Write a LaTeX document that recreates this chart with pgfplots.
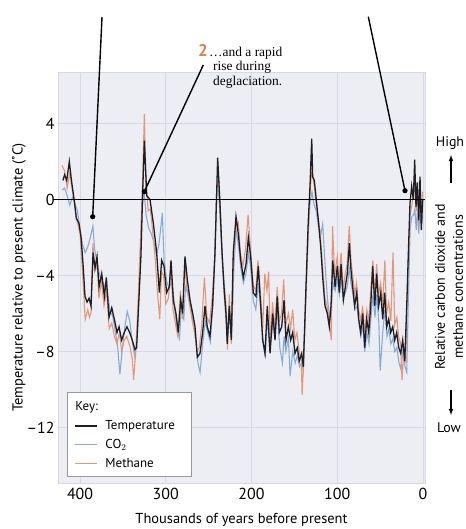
\documentclass[border=0pt]{standalone}
\usepackage{pgfplots}
\pgfplotsset{compat=1.18}
\usepackage{fontspec}
\setmainfont{PT Sans}
\newfontfamily\seriffont{Liberation Serif}

\definecolor{bgcol}{HTML}{ECEEF3}
\definecolor{gridcol}{HTML}{D6D9E1}
\definecolor{tempcol}{HTML}{1E1E24}
\definecolor{cocol}{HTML}{86ACD6}
\definecolor{methcol}{HTML}{E3977A}
\definecolor{numcol}{HTML}{D9824E}

\begin{document}
\begin{tikzpicture}
\path[use as bounding box] (-58bp,-46bp) rectangle (408bp,483bp);
\begin{axis}[
    scale only axis, width=367bp, height=411bp,
    x dir=reverse, xmin=-2.3, xmax=425.7,
    ymin=-14.92, ymax=6.71,
    xtick={0,100,200,300,400},
    ytick={-12,-8,-4,0,4},
    yticklabels={–12,–8,–4,0,4},
    /pgf/number format/assume math mode=true,
    tick style={draw=none},
    grid=major, major grid style={gridcol, line width=0.8bp},
    axis background/.style={fill=bgcol},
    axis line style={gridcol},
    ticklabel style={font=\fontsize{16}{18}\selectfont},
    xticklabel style={yshift=-2bp},
    xlabel={Thousands of years before present},
    ylabel={Temperature relative to present climate (˚C)},
    label style={font=\fontsize{14.5}{17}\selectfont},
    xlabel style={at={(rel axis cs:0.5,-0.09)}, anchor=center},
    ylabel style={at={(rel axis cs:-0.1063,0.5)}, anchor=center},
    clip=false,
    legend style={at={(0.0245,0.0146)}, anchor=south west, draw=gray!80, fill=white,
        line width=0.8bp, font=\fontsize{13}{15}\selectfont,
        inner xsep=7bp, inner ysep=4bp, nodes={inner ysep=4bp}},
    legend cell align=left,
    legend image code/.code={\draw[#1, line width=1.3bp] (0bp,0bp) -- (22bp,0bp); \path (28bp,0bp);},
]
% CO2
\addplot[cocol, line width=1.1bp, forget plot] coordinates {
(421,0.5) (418,0.6) (415,0.2) (412,-0.3) (409,0.1) (406,-0.2) (403,-0.6) (400,-1.6)
(397,-2.4) (394,-2.8) (391,-2.5) (388,-2.0) (385,-1.4) (383,-2.6) (380,-3.4) (377,-4.0)
(374,-4.3) (371,-4.6) (368,-4.9) (365,-5.9) (362,-6.1) (359,-6.9) (356,-7.8) (353.5,-9.2)
(351,-8.0) (348,-6.8) (345,-5.9) (342,-6.4) (339,-7.5) (336,-8.3) (333,-7.0) (330,-3.5)
(328,-0.8) (325.5,0.6) (323,-0.8) (320,-1.5) (317,-1.8) (314,-2.2) (311,-2.9) (308,-2.4)
(304,-0.7) (302,-3.2) (299,-4.3) (296,-4.7) (293,-4.2) (290,-5.5) (287,-6.8) (284,-7.3)
(282,-5.8) (279,-6.3) (277,-4.6) (274,-5.0) (271,-5.6) (268,-6.6) (265,-7.4) (262.5,-8.6)
(260,-9.1) (257,-7.6) (254,-6.4) (251,-7.0) (248,-7.5) (245,-5.4) (242.5,-2.5) (240,1.0)
(238,0.2) (235.5,-2.0) (233,-3.8) (230,-5.4) (228,-7.2) (225.5,-6.0) (223,-7.0) (220.5,-3.5)
(218,-1.6) (215.5,-2.3) (212.5,-3.6) (209.5,-4.4) (206.5,-3.9) (203.5,-2.8) (201,-3.6) (198,-5.3)
(195,-5.8) (192,-4.4) (189,-5.9) (187,-7.2) (184,-8.3) (181.5,-6.2) (178.5,-7.9) (175,-6.5)
(172.5,-7.2) (170,-5.8) (167,-7.8) (164,-8.6) (162,-7.2) (160,-8.0) (157,-7.3) (155,-9.3)
(152,-8.0) (149,-8.6) (146.5,-8.2) (144,-8.8) (141.5,-8.6) (139.5,-9.0) (136.5,-5.0) (134,-1.8)
(131.8,-0.2) (129.5,0.4) (127,-0.3) (124.5,-0.6) (122,-1.4) (119,-1.8) (117,-1.3) (114,-3.6)
(111.5,-5.2) (109,-6.2) (107,-5.6) (105,-4.4) (102.5,-4.8) (100,-4.2) (97.5,-5.0) (95.5,-4.2)
(93,-5.1) (90.5,-4.9) (88,-4.5) (86,-3.6) (84,-4.4) (82,-4.9) (79.5,-5.8) (77,-5.6)
(75,-6.4) (72.5,-7.2) (70,-6.6) (68,-8.0) (65.5,-7.0) (63,-7.6) (61,-6.4) (58.5,-5.0)
(56,-6.2) (54,-5.0) (51.5,-6.5) (50,-9.0) (47,-7.0) (44.5,-5.8) (42,-7.2) (40,-6.8)
(37.5,-7.6) (35,-7.3) (33,-8.0) (30.5,-7.8) (28,-8.6) (26,-8.9) (23.5,-8.0) (21,-8.8)
(19,-9.1) (17,-5.0) (15,-1.5) (13,-0.9) (11,-0.8) (9.5,-0.5) (8,-1.6) (6.5,-0.6)
(5,-1.8) (3.5,-0.7) (2,-1.4) (0.4,-0.9)
};
% Methane
\addplot[methcol, line width=1.1bp, forget plot] coordinates {
(421,1.8) (418,1.5) (415,0.6) (412,1.4) (409,0.5) (406,-0.4) (403,-1.2) (400,-1.8)
(397,-3.8) (394,-6.3) (391,-5.8) (389,-6.2) (387,-5.9) (385,-2.3) (383,-3.8) (380,-3.4)
(378,-5.2) (375,-4.3) (372,-5.6) (369,-4.8) (366,-6.8) (363,-6.5) (360,-7.2) (357,-7.6)
(354,-7.0) (351.5,-8.0) (348.5,-7.4) (345.5,-7.2) (342,-7.7) (339,-8.4) (337.5,-9.5) (335,-8.0)
(332,-5.0) (329,-1.5) (327,1.0) (325,4.5) (323,0.8) (320.5,-0.6) (318,-0.5) (315,-1.8)
(312,-3.3) (309.5,-5.0) (307,-6.3) (305,-3.8) (302.5,-4.0) (300,-5.5) (297,-5.2) (294,-3.6)
(291.5,-5.8) (288.5,-6.6) (286,-7.2) (283,-4.8) (280.5,-6.3) (278,-3.4) (275.5,-4.6) (272,-5.6)
(269,-6.4) (266,-7.0) (263.5,-8.0) (261,-7.8) (258,-6.6) (255,-4.1) (252,-6.2) (249,-6.5)
(246,-5.2) (243,-3.2) (240.5,0.7) (238,1.0) (236,-1.0) (234,-3.2) (232,-5.0) (229.5,-6.4)
(228,-7.9) (226,-5.0) (223.5,-7.6) (221,-3.2) (218.5,-1.5) (215.5,-1.2) (213,-2.8) (210,-3.5)
(207,-2.6) (204,-0.8) (201.5,-2.4) (198,-4.5) (195,-4.8) (192.5,-3.2) (189.5,-5.0) (187,-6.8)
(184.5,-3.9) (182,-4.8) (180,-3.8) (178,-7.6) (175.5,-5.4) (173,-6.8) (170,-4.6) (167.5,-6.4)
(165,-6.0) (162.5,-4.2) (160,-6.6) (157,-6.0) (154.5,-6.8) (152,-5.8) (149.5,-7.4) (147,-7.0)
(144.5,-8.0) (142,-8.4) (141,-10.3) (139.5,-8.8) (137,-5.6) (134,-2.0) (132,0.2) (130,1.4)
(128.5,1.2) (126.5,0.6) (124.5,-0.3) (122,-1.0) (119.5,-2.0) (117,-3.5) (114.5,-5.2) (112,-5.6)
(109.5,-6.4) (107,-7.4) (105.5,-1.4) (103,-4.0) (100,-3.0) (98,-4.3) (95.5,-2.8) (93,-4.8)
(91,-4.0) (88.5,-3.4) (86,-1.4) (84,-3.2) (82,-4.0) (79.5,-5.0) (77.5,-4.4) (75,-5.8)
(72.5,-6.4) (70.5,-5.6) (68,-7.0) (65.5,-5.8) (63.5,-6.4) (61,-4.8) (58.5,-3.2) (56.5,-5.0)
(54,-3.4) (52,-5.0) (49.5,-4.4) (47,-5.6) (44.5,-3.2) (42.5,-6.0) (40,-5.4) (37.5,-6.4)
(35,-2.8) (33,-6.6) (30.5,-6.2) (28.5,-7.2) (26,-7.6) (24.5,-9.5) (22,-7.8) (20,-8.6)
(19,-6.0) (17,-3.0) (15,-0.8) (13,-0.3) (11,0.4) (9.5,1.4) (8,-0.6) (6.5,0.6)
(5,-1.4) (3.5,0.9) (2,-1.0) (0.4,0.4)
};
% Temperature
\addplot[tempcol, line width=1.3bp, forget plot] coordinates {
(420,1.0) (418,1.3) (415.5,1.0) (412.5,2.0) (409.7,0.9) (406.6,-0.1) (404.3,-1.0) (401.2,-1.25)
(398.8,-2.0) (396.5,-3.4) (394.2,-5.1) (391.8,-5.4) (389.5,-5.2) (387.2,-5.6) (384.8,-2.8) (382.5,-3.6)
(380.2,-3.0) (377.8,-4.6) (374.7,-3.9) (371.6,-5.1) (369.3,-4.1) (366.2,-6.2) (363,-5.7) (360,-6.3)
(356.9,-7.0) (354.5,-6.7) (351.5,-7.4) (348.4,-7.0) (345.3,-6.7) (342.1,-7.0) (339.1,-7.4) (336,-7.9)
(334,-7.8) (329,-3.0) (327,0.3) (325,3.1) (322.2,0.2) (318.4,0.0) (314.5,-1.25) (310.6,-2.8)
(307.5,-4.9) (304.8,-3.2) (302.1,-3.5) (299,-4.9) (295.9,-4.6) (293.9,-3.2) (291.2,-5.3) (288.1,-6.0)
(285.4,-7.0) (282.6,-5.3) (280.3,-6.0) (277.6,-3.0) (274.9,-4.2) (271.7,-5.3) (268.6,-6.0) (265.9,-6.7)
(263.2,-8.3) (260.1,-8.1) (257,-7.0) (254.3,-5.6) (251.6,-6.7) (248.5,-7.2) (245.4,-5.6) (242.6,-2.8)
(239.5,2.2) (236.8,-0.2) (234.4,-2.8) (232.1,-4.6) (229.8,-6.0) (228.3,-7.6) (225.9,-5.6) (223.6,-7.4)
(221.3,-2.8) (218.1,-0.9) (215.4,-1.8) (212.6,-3.2) (209.6,-4.1) (206.4,-3.4) (203.7,-2.0) (201,-3.0)
(197.9,-4.9) (194.8,-5.1) (192.1,-3.5) (189.3,-5.6) (187,-7.4) (184.3,-8.1) (181.6,-5.6) (178.4,-8.1)
(175.3,-6.0) (172.6,-7.4) (170,-5.1) (167.6,-7.0) (164.8,-6.7) (162.1,-5.3) (159.8,-7.4) (157.1,-6.7)
(154.3,-7.4) (152,-7.0) (149.3,-8.1) (146.6,-7.8) (144.3,-8.5) (141.5,-8.1) (139.6,-8.8) (136.5,-4.6)
(133.8,-1.1) (131.8,0.7) (129.8,3.2) (128.7,1.2) (126.8,1.0) (124.8,0.15) (122.1,-1.1) (119.3,-2.5)
(117,-4.1) (114.3,-5.6) (111.6,-6.0) (109.3,-6.7) (107.3,-5.6) (105.3,-3.2) (102.6,-4.6) (99.9,-3.5)
(97.6,-4.9) (95.6,-3.4) (92.9,-5.3) (90.6,-4.6) (88.3,-3.9) (85.9,-2.3) (84,-3.7) (82,-4.6)
(79.7,-5.6) (77.3,-4.9) (75,-6.3) (72.7,-7.0) (70.3,-6.0) (68,-7.8) (65.7,-6.3) (63.3,-7.0)
(61,-5.6) (58.7,-3.5) (56.3,-5.6) (54,-3.9) (51.7,-5.6) (49.3,-4.9) (47,-6.3) (44.7,-4.9)
(42.3,-6.7) (40,-6.3) (37.7,-7.0) (35.3,-6.7) (33,-7.4) (30.7,-7.0) (28.3,-7.8) (26,-8.1)
(23.7,-7.4) (21.3,-8.5) (19,-5.6) (17.1,-2.8) (15.2,-0.2) (13.2,0.7) (11.3,0.0) (9.7,2.1)
(8.2,-0.4) (6.6,0.9) (5,-1.1) (3.5,1.2) (2,-1.6) (0.4,0.0)
};
% zero reference line
\draw[black, line width=1.4bp] (axis cs:432,0) -- (axis cs:-2.3,0);
% legend
\addlegendimage{legend image code/.code={\node[anchor=west, inner sep=0pt, overlay] at (0bp,0bp) {Key:};}}
\addlegendentry{\strut}
\addlegendimage{tempcol}
\addlegendentry{Temperature\hspace*{8bp}}
\addlegendimage{cocol}
\addlegendentry{CO$_2$}
\addlegendimage{methcol}
\addlegendentry{Methane}
\end{axis}
% pointers
\draw[black, line width=1.4bp] (44bp,466bp) -- (34.7bp,266.3bp);
\fill[black] (34.7bp,266.3bp) circle (2.6bp);
\draw[black, line width=1.4bp] (145.3bp,418bp) -- (86.3bp,291.3bp);
\fill[black] (86.3bp,291.3bp) circle (2.6bp);
\draw[black, line width=1.4bp] (310.3bp,466.3bp) -- (347bp,292.3bp);
\fill[black] (347bp,292.3bp) circle (2.6bp);
% annotation
\node[anchor=base west, inner sep=0pt, text=numcol, font=\fontsize{17}{19}\selectfont\bfseries] at (140bp,426bp) {2};
\node[anchor=base west, inner sep=0pt, font=\seriffont\fontsize{13.5}{15}\selectfont] at (151bp,426bp) {…and a rapid};
\node[anchor=base west, inner sep=0pt, font=\seriffont\fontsize{13.5}{15}\selectfont] at (155bp,412bp) {rise during};
\node[anchor=base west, inner sep=0pt, font=\seriffont\fontsize{13.5}{15}\selectfont] at (155bp,397.5bp) {deglaciation.};
% right-hand scale
\node[rotate=90, align=center, font=\fontsize{14}{18}\selectfont] at (391bp,196bp) {Relative carbon dioxide and\\methane concentrations};
\node[font=\fontsize{14}{16}\selectfont] at (392bp,340bp) {High};
\draw[-latex, line width=1.1bp] (393bp,300bp) -- (393bp,328bp);
\node[font=\fontsize{14}{16}\selectfont] at (391bp,55bp) {Low};
\draw[-latex, line width=1.1bp] (393bp,93bp) -- (393bp,68bp);
\end{tikzpicture}
\end{document}
